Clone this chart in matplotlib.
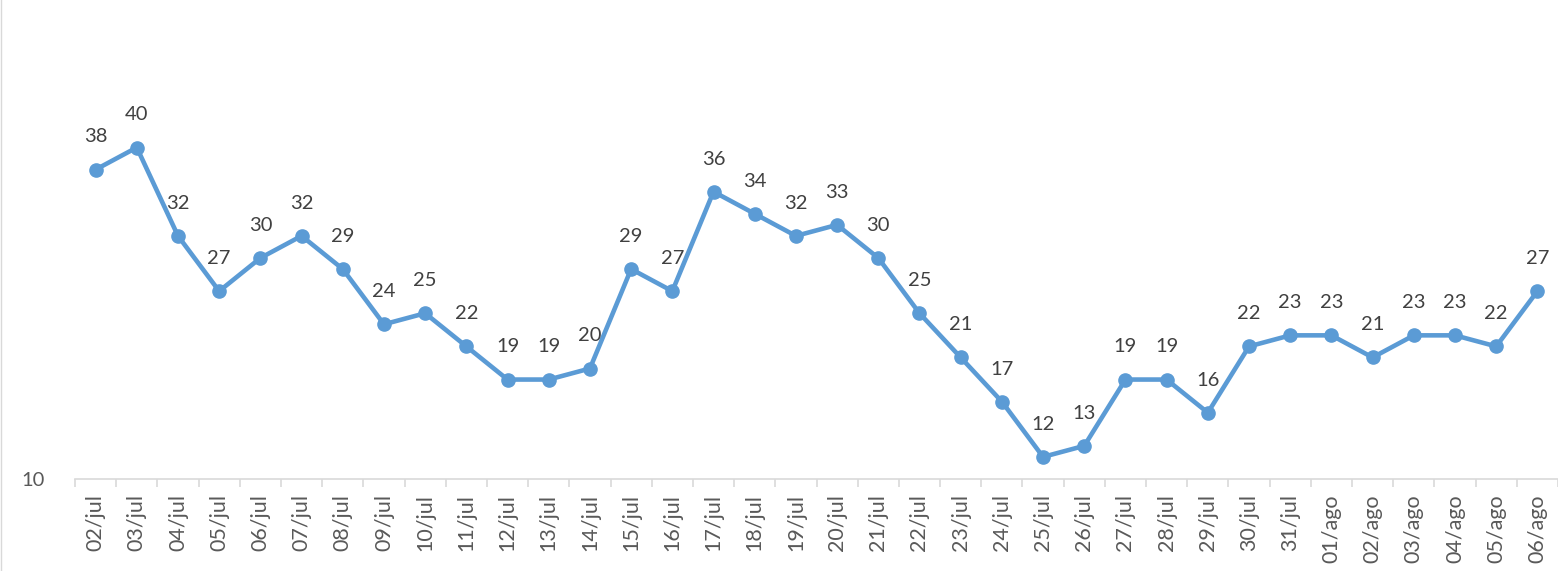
import matplotlib
matplotlib.use("Agg")
import matplotlib.pyplot as plt
from matplotlib.lines import Line2D

dates = ["02/jul", "03/jul", "04/jul", "05/jul", "06/jul", "07/jul", "08/jul", "09/jul",
         "10/jul", "11/jul", "12/jul", "13/jul", "14/jul", "15/jul", "16/jul", "17/jul",
         "18/jul", "19/jul", "20/jul", "21/jul", "22/jul", "23/jul", "24/jul", "25/jul",
         "26/jul", "27/jul", "28/jul", "29/jul", "30/jul", "31/jul", "01/ago", "02/ago",
         "03/ago", "04/ago", "05/ago", "06/ago"]
values = [38, 40, 32, 27, 30, 32, 29, 24, 25, 22, 19, 19, 20, 29, 27, 36, 34, 32, 33, 30,
          25, 21, 17, 12, 13, 19, 19, 16, 22, 23, 23, 21, 23, 23, 22, 27]

plt.rcParams['font.family'] = ['Lato', 'DejaVu Sans']
W, H = 1558, 571
fig = plt.figure(figsize=(W / 100, H / 100), dpi=100)
ax = fig.add_axes([75 / W, 1 - 479 / H, (1558 - 75) / W, (479 - 37) / H])

x = list(range(len(values)))
ax.plot(x, values, color="#5B9BD5", lw=3.3, marker="o", markersize=9.5,
        solid_joinstyle="round", clip_on=False, zorder=3)
for xi, v in zip(x, values):
    ax.annotate(str(v), (xi, v), xytext=(0, 23.5), textcoords="offset points",
                ha="center", va="center", fontsize=14.5, color="#404040")

ax.set_xlim(-0.5, len(values) - 0.5)
ax.set_ylim(10, 50)
ax.set_yticks([10])
ax.set_yticklabels(["10"], fontsize=14.5, color="#595959")
ax.tick_params(axis="y", length=0, pad=22)

ax.set_xticks(x)
ax.set_xticklabels(dates, rotation=90, fontsize=15.5, color="#595959")
ax.set_xticks([i - 0.5 for i in range(len(values) + 1)], minor=True)
ax.tick_params(axis="x", which="major", length=0, pad=11)
ax.tick_params(axis="x", which="minor", length=6, color="#D9D9D9", width=1.2)

for s in ["top", "right", "left"]:
    ax.spines[s].set_visible(False)
ax.spines["bottom"].set_color("#D9D9D9")
ax.spines["bottom"].set_linewidth(1.2)

fig.add_artist(Line2D([0.5 / W, 0.5 / W], [0, 1], color="#D9D9D9", lw=1,
                      transform=fig.transFigure))

fig.savefig("out.png", dpi=100)
